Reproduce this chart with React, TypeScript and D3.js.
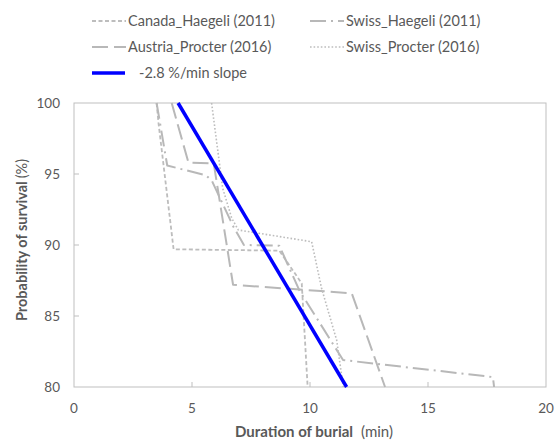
import React from 'react';
import * as d3 from 'd3';

// 埋没時間と生存確率 (min, %)
const canadaHaegeli: [number, number][] = [
  [3.5, 100], [3.58, 98.6], [4.22, 89.7], [8.7, 89.6], [9.65, 87.3], [9.9, 80],
];
const swissHaegeli: [number, number][] = [
  [3.5, 100], [3.95, 95.6], [5.6, 94.9], [5.85, 94.5], [6.75, 91.3], [7.2, 90.0],
  [8.7, 89.95], [9.55, 86.8], [11.4, 81.9], [17.75, 80.7], [17.8, 80],
];
const austriaProcter: [number, number][] = [
  [4.14, 100], [4.85, 95.8], [5.92, 95.75], [6.74, 87.2], [11.77, 86.6], [13.18, 80],
];
const swissProcter: [number, number][] = [
  [5.83, 100], [6.3, 94.0], [6.68, 91.9], [6.96, 91.06], [10.07, 90.23],
  [10.49, 86.95], [11.13, 83.3], [11.41, 80],
];
const slopeLine: [number, number][] = [[4.41, 100], [11.55, 80]];

const xTicks = [0, 5, 10, 15, 20];
const yTicks = [80, 85, 90, 95, 100];

const FONT = 'Lato, "Open Sans", sans-serif';
const TEXT = '#595959';
const AXIS = '#bfbfbf';

const series = [
  { name: 'Canada_Haegeli (2011)', data: canadaHaegeli, color: '#bdbdbd', width: 1.8, dash: '4,2.5' },
  { name: 'Swiss_Haegeli (2011)', data: swissHaegeli, color: '#b8b8b8', width: 2, dash: '16,5,2,5' },
  { name: 'Austria_Procter (2016)', data: austriaProcter, color: '#b8b8b8', width: 2, dash: '16,6' },
  { name: 'Swiss_Procter (2016)', data: swissProcter, color: '#bdbdbd', width: 1.6, dash: '1.6,2' },
];

export default function App() {
  const width = 558;
  const height = 441;
  const m = { left: 74, right: 12, top: 103, bottom: 54 };

  const x = d3.scaleLinear().domain([0, 20]).range([m.left, width - m.right]);
  const y = d3.scaleLinear().domain([80, 100]).range([height - m.bottom, m.top]);
  const line = d3.line<[number, number]>().x(d => x(d[0])).y(d => y(d[1]));

  const legend = [
    { ...series[0], lx: 92, ly: 21 },
    { ...series[1], lx: 310, ly: 21 },
    { ...series[2], lx: 92, ly: 47 },
    { ...series[3], lx: 310, ly: 47 },
  ];

  return (
    <svg width={width} height={height} style={{ position: 'absolute', left: 0, top: 0 }} fontFamily={FONT}>
      <rect x={0} y={0} width={width} height={height} fill="#fff" />

      {/* 凡例 */}
      {legend.map(l => (
        <g key={l.name}>
          <line x1={l.lx} x2={l.lx + 34} y1={l.ly} y2={l.ly} stroke={l.color} strokeWidth={l.width} strokeDasharray={l.dash} />
          <text x={l.lx + 36} y={l.ly} dy="0.35em" fontSize={14.5} fill={TEXT}>{l.name}</text>
        </g>
      ))}
      <line x1={92} x2={125} y1={73} y2={73} stroke="#0000ff" strokeWidth={3.5} />
      <text x={139} y={73} dy="0.35em" fontSize={14.5} fill={TEXT}>-2.8 %/min slope</text>

      {/* 枠 */}
      <rect x={m.left} y={m.top} width={width - m.left - m.right} height={height - m.top - m.bottom}
        fill="none" stroke={AXIS} strokeWidth={1} />
      {xTicks.slice(1, -1).map(t => (
        <line key={t} x1={x(t)} x2={x(t)} y1={y(80)} y2={y(80) - 5} stroke={AXIS} />
      ))}
      {yTicks.slice(1, -1).map(t => (
        <line key={t} x1={m.left} x2={m.left + 5} y1={y(t)} y2={y(t)} stroke={AXIS} />
      ))}

      {xTicks.map(t => (
        <text key={t} x={x(t)} y={y(80) + 26} textAnchor="middle" fontSize={13.5} fill={TEXT}>{t}</text>
      ))}
      {yTicks.map(t => (
        <text key={t} x={60} y={y(t)} dy="0.35em" textAnchor="end" fontSize={13.5} fill={TEXT}>{t}</text>
      ))}

      {/* 系列 */}
      {series.map(s => (
        <path key={s.name} d={line(s.data) || ''} fill="none" stroke={s.color} strokeWidth={s.width}
          strokeDasharray={s.dash} strokeLinejoin="round" />
      ))}
      <path d={line(slopeLine) || ''} fill="none" stroke="#0000ff" strokeWidth={3.5} />

      {/* 軸タイトル */}
      <text x={314} y={437} textAnchor="middle" fontSize={15} fill={TEXT}>
        <tspan fontWeight="bold">Duration of burial</tspan>
        <tspan dx={8}>(min)</tspan>
      </text>
      <text transform="translate(27, 240) rotate(-90)" textAnchor="middle" fontSize={14.5} fill={TEXT}>
        <tspan fontWeight="bold">Probability of survival</tspan>
        <tspan dx={3}>(%)</tspan>
      </text>
    </svg>
  );
}
